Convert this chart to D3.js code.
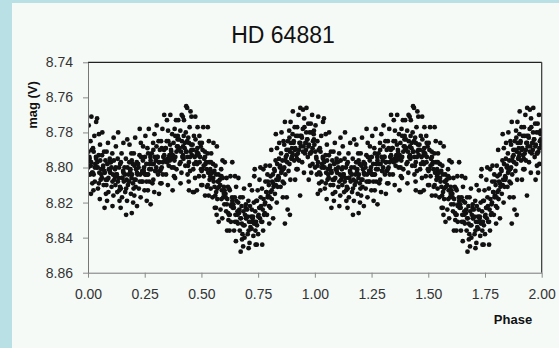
<!DOCTYPE html>
<html><head><meta charset="utf-8">
<script src="https://cdn.jsdelivr.net/npm/d3@7"></script>
<style>
html,body{margin:0;padding:0;background:#b9e0e4;}
svg{display:block;font-family:"Liberation Sans",Arial,sans-serif;}
</style></head>
<body>
<svg id="chart" width="559" height="348"></svg>
<script>
const title = "HD 64881";
const xLabel = "Phase";
const yLabel = "mag (V)";
const xTicks = [0, 0.25, 0.5, 0.75, 1.0, 1.25, 1.5, 1.75, 2.0];
const yTicks = [8.74, 8.76, 8.78, 8.80, 8.82, 8.84, 8.86];
const cycles = [0, 1];
// [phase, magnitude] for one cycle; the chart repeats it over phase 1-2
const observations = [
[0.003,8.776],[0.011,8.785],[0.017,8.790],[0.006,8.794],[0.014,8.797],[0.001,8.800],[0.009,8.804],[0.019,8.809],[0.013,8.815],
[0.028,8.782],[0.022,8.789],[0.035,8.794],[0.032,8.798],[0.038,8.800],[0.025,8.804],[0.030,8.808],[0.024,8.813],[0.036,8.774],
[0.053,8.787],[0.047,8.793],[0.041,8.797],[0.059,8.801],[0.050,8.803],[0.056,8.807],[0.044,8.812],[0.052,8.818],[0.048,8.781],
[0.063,8.780],[0.071,8.791],[0.077,8.796],[0.066,8.800],[0.074,8.803],[0.061,8.806],[0.069,8.810],[0.079,8.815],[0.073,8.823],
[0.088,8.786],[0.082,8.791],[0.095,8.797],[0.092,8.801],[0.098,8.803],[0.085,8.807],[0.090,8.814],[0.084,8.819],[0.096,8.795],
[0.113,8.783],[0.107,8.792],[0.101,8.797],[0.119,8.801],[0.110,8.804],[0.116,8.807],[0.104,8.811],[0.112,8.816],[0.108,8.822],
[0.123,8.788],[0.131,8.795],[0.137,8.800],[0.126,8.804],[0.134,8.806],[0.121,8.810],[0.129,8.814],[0.139,8.819],[0.133,8.780],
[0.148,8.792],[0.142,8.798],[0.155,8.802],[0.152,8.806],[0.158,8.808],[0.145,8.812],[0.150,8.817],[0.144,8.823],[0.156,8.786],
[0.173,8.784],[0.167,8.795],[0.161,8.800],[0.179,8.804],[0.170,8.807],[0.176,8.810],[0.164,8.814],[0.172,8.819],[0.168,8.827],
[0.183,8.787],[0.191,8.792],[0.197,8.798],[0.186,8.802],[0.194,8.804],[0.181,8.808],[0.189,8.815],[0.199,8.820],[0.193,8.796],
[0.208,8.783],[0.202,8.792],[0.215,8.797],[0.212,8.801],[0.218,8.804],[0.205,8.807],[0.210,8.811],[0.204,8.816],[0.216,8.822],
[0.233,8.786],[0.227,8.793],[0.221,8.798],[0.239,8.802],[0.230,8.804],[0.236,8.808],[0.224,8.812],[0.232,8.817],[0.228,8.778],
[0.243,8.788],[0.251,8.794],[0.257,8.798],[0.246,8.802],[0.254,8.804],[0.241,8.808],[0.249,8.813],[0.259,8.819],[0.253,8.782],
[0.268,8.778],[0.262,8.789],[0.275,8.794],[0.272,8.798],[0.278,8.801],[0.265,8.804],[0.270,8.808],[0.264,8.813],[0.276,8.821],
[0.293,8.781],[0.287,8.786],[0.281,8.792],[0.299,8.796],[0.290,8.798],[0.296,8.802],[0.284,8.809],[0.292,8.814],[0.288,8.790],
[0.303,8.776],[0.311,8.785],[0.317,8.790],[0.306,8.794],[0.314,8.797],[0.301,8.800],[0.309,8.804],[0.319,8.809],[0.313,8.815],
[0.328,8.778],[0.322,8.785],[0.335,8.790],[0.332,8.794],[0.338,8.796],[0.325,8.800],[0.330,8.804],[0.324,8.809],[0.336,8.770],
[0.353,8.779],[0.347,8.785],[0.341,8.789],[0.359,8.793],[0.350,8.795],[0.356,8.799],[0.344,8.804],[0.352,8.810],[0.348,8.773],
[0.363,8.770],[0.371,8.781],[0.377,8.786],[0.366,8.790],[0.374,8.793],[0.361,8.796],[0.369,8.800],[0.379,8.805],[0.373,8.813],
[0.388,8.773],[0.382,8.778],[0.395,8.784],[0.392,8.788],[0.398,8.790],[0.385,8.794],[0.390,8.801],[0.384,8.806],[0.396,8.782],
[0.413,8.770],[0.407,8.779],[0.401,8.784],[0.419,8.788],[0.410,8.791],[0.416,8.794],[0.404,8.798],[0.412,8.803],[0.408,8.809],
[0.423,8.773],[0.431,8.780],[0.437,8.785],[0.426,8.789],[0.434,8.791],[0.421,8.795],[0.429,8.799],[0.439,8.804],[0.433,8.765],
[0.448,8.777],[0.442,8.783],[0.455,8.787],[0.452,8.791],[0.458,8.793],[0.445,8.797],[0.450,8.802],[0.444,8.808],[0.456,8.771],
[0.473,8.771],[0.467,8.782],[0.461,8.787],[0.479,8.791],[0.470,8.794],[0.476,8.797],[0.464,8.801],[0.472,8.806],[0.468,8.814],
[0.483,8.777],[0.491,8.782],[0.497,8.788],[0.486,8.792],[0.494,8.794],[0.481,8.798],[0.489,8.805],[0.499,8.810],[0.493,8.786],
[0.508,8.777],[0.502,8.786],[0.515,8.791],[0.512,8.795],[0.518,8.798],[0.505,8.801],[0.510,8.805],[0.504,8.810],[0.516,8.816],
[0.533,8.785],[0.527,8.792],[0.521,8.797],[0.539,8.801],[0.530,8.803],[0.536,8.807],[0.524,8.811],[0.532,8.816],[0.528,8.777],
[0.543,8.792],[0.551,8.798],[0.557,8.802],[0.546,8.806],[0.554,8.808],[0.541,8.812],[0.549,8.817],[0.559,8.823],[0.553,8.786],
[0.568,8.788],[0.562,8.799],[0.575,8.804],[0.572,8.808],[0.578,8.811],[0.565,8.814],[0.570,8.818],[0.564,8.823],[0.576,8.831],
[0.593,8.796],[0.587,8.801],[0.581,8.807],[0.599,8.811],[0.590,8.813],[0.596,8.817],[0.584,8.824],[0.592,8.829],[0.588,8.805],
[0.603,8.797],[0.611,8.806],[0.617,8.811],[0.606,8.815],[0.614,8.818],[0.601,8.821],[0.609,8.825],[0.619,8.830],[0.613,8.836],
[0.628,8.805],[0.622,8.812],[0.635,8.817],[0.632,8.821],[0.638,8.823],[0.625,8.827],[0.630,8.831],[0.624,8.836],[0.636,8.797],
[0.653,8.811],[0.647,8.817],[0.641,8.821],[0.659,8.825],[0.650,8.827],[0.656,8.831],[0.644,8.836],[0.652,8.842],[0.648,8.805],
[0.663,8.806],[0.671,8.817],[0.677,8.822],[0.666,8.826],[0.674,8.829],[0.661,8.832],[0.669,8.836],[0.679,8.841],[0.673,8.848],
[0.688,8.812],[0.682,8.817],[0.695,8.823],[0.692,8.827],[0.698,8.829],[0.685,8.833],[0.690,8.840],[0.684,8.845],[0.696,8.821],
[0.713,8.810],[0.707,8.819],[0.701,8.824],[0.719,8.828],[0.710,8.831],[0.716,8.834],[0.704,8.838],[0.712,8.843],[0.708,8.846],
[0.723,8.813],[0.731,8.820],[0.737,8.825],[0.726,8.829],[0.734,8.831],[0.721,8.835],[0.729,8.839],[0.739,8.844],[0.733,8.805],
[0.748,8.813],[0.742,8.819],[0.755,8.823],[0.752,8.827],[0.758,8.829],[0.745,8.833],[0.750,8.838],[0.744,8.844],[0.756,8.807],
[0.773,8.801],[0.767,8.812],[0.761,8.817],[0.779,8.821],[0.770,8.824],[0.776,8.827],[0.764,8.831],[0.772,8.836],[0.768,8.844],
[0.783,8.799],[0.791,8.804],[0.797,8.810],[0.786,8.814],[0.794,8.816],[0.781,8.820],[0.789,8.827],[0.799,8.832],[0.793,8.808],
[0.808,8.790],[0.802,8.799],[0.815,8.804],[0.812,8.808],[0.818,8.811],[0.805,8.814],[0.810,8.818],[0.804,8.823],[0.816,8.829],
[0.833,8.789],[0.827,8.796],[0.821,8.801],[0.839,8.805],[0.830,8.807],[0.836,8.811],[0.824,8.815],[0.832,8.820],[0.828,8.781],
[0.843,8.786],[0.851,8.792],[0.857,8.796],[0.846,8.800],[0.854,8.802],[0.841,8.806],[0.849,8.811],[0.859,8.817],[0.853,8.780],
[0.868,8.774],[0.862,8.785],[0.875,8.790],[0.872,8.794],[0.878,8.797],[0.865,8.800],[0.870,8.804],[0.864,8.809],[0.876,8.817],
[0.893,8.774],[0.887,8.779],[0.881,8.785],[0.899,8.789],[0.890,8.791],[0.896,8.795],[0.884,8.802],[0.892,8.807],[0.888,8.783],
[0.903,8.768],[0.911,8.777],[0.917,8.782],[0.906,8.786],[0.914,8.789],[0.901,8.792],[0.909,8.796],[0.919,8.801],[0.913,8.807],
[0.928,8.770],[0.922,8.777],[0.935,8.782],[0.932,8.786],[0.938,8.788],[0.925,8.792],[0.930,8.796],[0.924,8.801],[0.936,8.766],
[0.953,8.772],[0.947,8.778],[0.941,8.782],[0.959,8.786],[0.950,8.788],[0.956,8.792],[0.944,8.797],[0.952,8.803],[0.948,8.767],
[0.963,8.766],[0.971,8.775],[0.977,8.780],[0.966,8.784],[0.974,8.787],[0.961,8.790],[0.969,8.794],[0.979,8.799],[0.973,8.807],
[0.988,8.770],[0.982,8.775],[0.995,8.781],[0.992,8.785],[0.998,8.787],[0.985,8.791],[0.990,8.798],[0.984,8.803],[0.996,8.779],
[0.193,8.826],[0.015,8.771],[0.040,8.772],[0.437,8.766],[0.452,8.768],[0.418,8.771],[0.398,8.773],
[0.445,8.813],[0.462,8.814],[0.480,8.813],[0.735,8.801],[0.760,8.800],[0.567,8.827],
[0.868,8.832],[0.890,8.827],[0.880,8.824],[0.935,8.816],
[0.138,8.862],[0.890,8.862]
];
// densely packed middle of the band
const coreObservations = [
[0.002,8.791],[0.007,8.795],[0.012,8.799],[0.018,8.803],[0.025,8.791],[0.036,8.795],[0.030,8.800],[0.021,8.803],
[0.054,8.796],[0.043,8.800],[0.059,8.804],[0.048,8.809],[0.062,8.793],[0.067,8.799],[0.072,8.802],[0.078,8.807],
[0.085,8.798],[0.096,8.802],[0.090,8.806],[0.081,8.810],[0.114,8.796],[0.103,8.800],[0.119,8.805],[0.108,8.808],
[0.122,8.800],[0.127,8.804],[0.132,8.808],[0.138,8.813],[0.145,8.797],[0.156,8.803],[0.150,8.806],[0.141,8.811],
[0.174,8.800],[0.163,8.804],[0.179,8.808],[0.168,8.812],[0.182,8.797],[0.187,8.801],[0.192,8.806],[0.198,8.809],
[0.205,8.799],[0.216,8.803],[0.210,8.807],[0.201,8.812],[0.234,8.794],[0.223,8.800],[0.239,8.803],[0.228,8.808],
[0.242,8.796],[0.247,8.800],[0.252,8.804],[0.258,8.808],[0.265,8.792],[0.276,8.796],[0.270,8.801],[0.261,8.804],
[0.294,8.794],[0.283,8.798],[0.299,8.802],[0.288,8.807],[0.302,8.788],[0.307,8.794],[0.312,8.797],[0.318,8.802],
[0.325,8.789],[0.336,8.793],[0.330,8.797],[0.321,8.801],[0.354,8.785],[0.343,8.789],[0.359,8.794],[0.348,8.797],
[0.362,8.787],[0.367,8.791],[0.372,8.795],[0.378,8.800],[0.385,8.782],[0.396,8.788],[0.390,8.791],[0.381,8.796],
[0.414,8.785],[0.403,8.789],[0.419,8.793],[0.408,8.797],[0.422,8.782],[0.427,8.786],[0.432,8.791],[0.438,8.794],
[0.445,8.786],[0.456,8.790],[0.450,8.794],[0.441,8.799],[0.474,8.784],[0.463,8.790],[0.479,8.793],[0.468,8.798],
[0.482,8.789],[0.487,8.793],[0.492,8.797],[0.498,8.801],[0.505,8.790],[0.516,8.794],[0.510,8.799],[0.501,8.802],
[0.534,8.797],[0.523,8.801],[0.539,8.805],[0.528,8.810],[0.542,8.797],[0.547,8.803],[0.552,8.806],[0.558,8.811],
[0.565,8.804],[0.576,8.808],[0.570,8.812],[0.561,8.816],[0.594,8.806],[0.583,8.810],[0.599,8.815],[0.588,8.818],
[0.602,8.813],[0.607,8.817],[0.612,8.821],[0.618,8.826],[0.625,8.813],[0.636,8.819],[0.630,8.822],[0.621,8.827],
[0.654,8.819],[0.643,8.823],[0.659,8.827],[0.648,8.831],[0.662,8.820],[0.667,8.824],[0.672,8.829],[0.678,8.832],
[0.685,8.825],[0.696,8.829],[0.690,8.833],[0.681,8.838],[0.714,8.822],[0.703,8.828],[0.719,8.831],[0.708,8.836],
[0.722,8.824],[0.727,8.828],[0.732,8.832],[0.738,8.836],[0.745,8.819],[0.756,8.823],[0.750,8.828],[0.741,8.831],
[0.774,8.818],[0.763,8.822],[0.779,8.826],[0.768,8.831],[0.782,8.808],[0.787,8.814],[0.792,8.817],[0.798,8.822],
[0.805,8.805],[0.816,8.809],[0.810,8.813],[0.801,8.817],[0.834,8.798],[0.823,8.802],[0.839,8.807],[0.828,8.810],
[0.842,8.795],[0.847,8.799],[0.852,8.803],[0.858,8.808],[0.865,8.787],[0.876,8.793],[0.870,8.796],[0.861,8.801],
[0.894,8.786],[0.883,8.790],[0.899,8.794],[0.888,8.798],[0.902,8.781],[0.907,8.785],[0.912,8.790],[0.918,8.793],
[0.925,8.782],[0.936,8.786],[0.930,8.790],[0.921,8.795],[0.954,8.777],[0.943,8.783],[0.959,8.786],[0.948,8.791],
[0.962,8.780],[0.967,8.784],[0.972,8.788],[0.978,8.792],[0.985,8.780],[0.996,8.784],[0.990,8.789],[0.981,8.792]
];

const W = 559, H = 348;
const m = {left: 88, right: 541.7, top: 62.3, bottom: 272.7};
const svg = d3.select("#chart");

svg.append("rect").attr("x", 12).attr("y", 3).attr("width", W - 12).attr("height", H - 3).attr("fill", "#f5faf7");

const x = d3.scaleLinear().domain([0, 2]).range([m.left, m.right]);
const y = d3.scaleLinear().domain([8.74, 8.86]).range([m.top, m.bottom]);

svg.append("text").attr("x", 283).attr("y", 43).attr("text-anchor", "middle")
  .attr("font-size", 23).attr("fill", "#111").text(title);

svg.append("defs").append("clipPath").attr("id", "plotclip").append("rect")
  .attr("x", m.left).attr("y", m.top).attr("width", m.right - m.left).attr("height", m.bottom - m.top);

const pts = [];
cycles.forEach(c => observations.concat(coreObservations).forEach(d => pts.push([d[0] + c, d[1]])));
svg.append("g").attr("clip-path", "url(#plotclip)").selectAll("circle").data(pts).join("circle")
  .attr("cx", d => x(d[0])).attr("cy", d => y(d[1])).attr("r", 2.4).attr("fill", "#111");

// frame lines
svg.append("line").attr("x1", m.left).attr("x2", m.right).attr("y1", m.top).attr("y2", m.top).attr("stroke", "#222").attr("stroke-width", 1.2);
svg.append("line").attr("x1", m.right).attr("x2", m.right).attr("y1", m.top).attr("y2", m.bottom).attr("stroke", "#333").attr("stroke-width", 1.2);

const xAxis = svg.append("g").attr("transform", `translate(0,${m.bottom})`)
  .call(d3.axisBottom(x).tickValues(xTicks).tickSize(5).tickSizeOuter(0).tickFormat(d3.format(".2f")));
const yAxis = svg.append("g").attr("transform", `translate(${m.left},0)`)
  .call(d3.axisLeft(y).tickValues(yTicks).tickSize(5).tickSizeOuter(0).tickFormat(d3.format(".2f")));
[xAxis, yAxis].forEach(g => {
  g.select(".domain").attr("stroke", "#777");
  g.selectAll(".tick line").attr("stroke", "#888");
  g.selectAll(".tick text").attr("font-size", 14).attr("fill", "#333").attr("font-family", "'Liberation Sans',Arial,sans-serif");
});
xAxis.selectAll(".tick text").attr("dy", "0.71em").attr("y", 16);
yAxis.selectAll(".tick text").attr("x", -15);

svg.append("text").attr("x", 513).attr("y", 324).attr("text-anchor", "middle")
  .attr("font-size", 13).attr("font-weight", "bold").attr("fill", "#111").text(xLabel);
svg.append("text").attr("transform", "translate(37,105) rotate(-90)").attr("text-anchor", "middle")
  .attr("font-size", 13).attr("font-weight", "bold").attr("fill", "#111").text(yLabel);
</script>
</body></html>
